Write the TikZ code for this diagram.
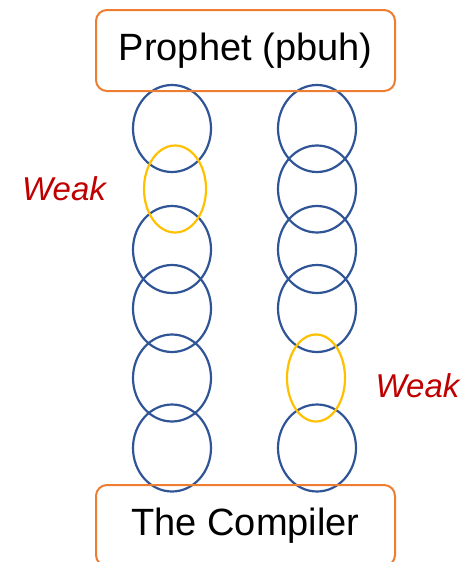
\documentclass[tikz,border=0pt]{standalone}
\usepackage{fontspec}
\setmainfont{Liberation Sans}
\usetikzlibrary{shapes.geometric}

\definecolor{boxorange}{HTML}{ED7D31}
\definecolor{ringblue}{HTML}{2F5597}
\definecolor{weakyellow}{HTML}{FFC000}
\definecolor{weakred}{HTML}{C00000}

\tikzset{
  ring/.style={ellipse,draw=ringblue,line width=2.2pt,inner sep=0pt,
    minimum width=78pt,minimum height=87pt},
  weakring/.style={ellipse,draw=weakyellow,line width=2.2pt,inner sep=0pt,
    minimum height=87pt},
  endbox/.style={rectangle,rounded corners=11pt,draw=boxorange,line width=2pt,
    minimum width=299pt,minimum height=81pt,inner sep=0pt,
    font=\fontsize{38}{44}\selectfont},
  weaklabel/.style={anchor=base,text=weakred,inner sep=0pt,
    font=\fontsize{33}{40}\selectfont\itshape}
}

\begin{document}
\begin{tikzpicture}[line cap=round,line join=round,x=1pt,y=-1pt]
    \useasboundingbox (0,0) rectangle (464,562);

    % left chain
    \foreach \i/\y in {1/128.5,3/249.5,4/308.5,5/378,6/448}
      \node[ring] (l\i) at (172,\y) {};
    \node[weakring,minimum width=62pt] (l2) at (175,189) {};

    % right chain
    \foreach \i/\y in {1/128.5,2/189,3/249.5,4/308.5,6/448}
      \node[ring] (r\i) at (317,\y) {};
    \node[weakring,minimum width=58pt] (r5) at (316,378) {};

    % ends
    \node[endbox] (prophet) at (245.5,50.5) {Prophet (pbuh)};
    \node[endbox] (compiler) at (245.5,525.5) {The Compiler};

    \node[weaklabel] (weakl) at (64,200) {Weak};
    \node[weaklabel] (weakr) at (417.5,397) {Weak};
\end{tikzpicture}
\end{document}
